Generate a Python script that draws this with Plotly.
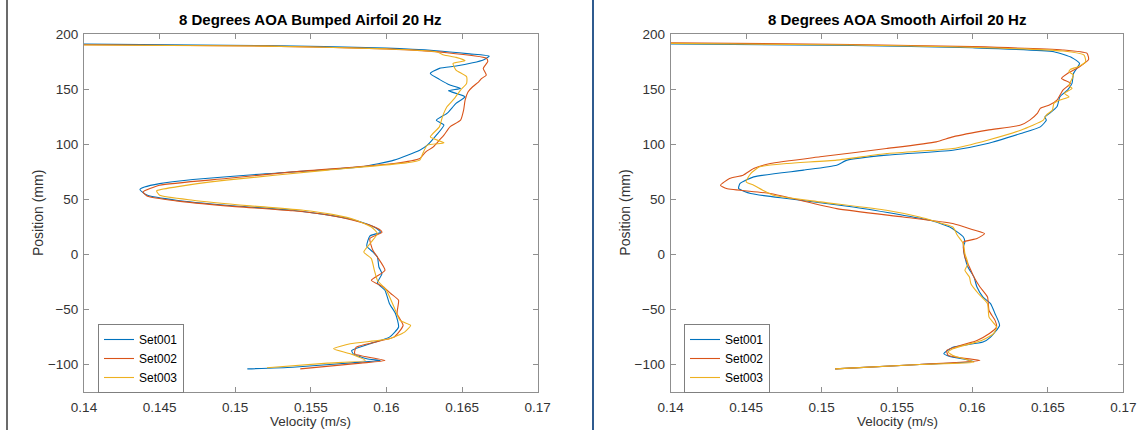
import plotly.graph_objects as go

W, H = 1148, 439

# ---------------- data (position mm, velocity m/s) ----------------
bumped_set001 = [
    (190.8, 0.1400), (189.5, 0.1520), (187.2, 0.1600), (184.8, 0.1633), (182.0, 0.1655),
    (180.0, 0.1668), (176.5, 0.1664), (173.9, 0.1657), (170.9, 0.1646), (168.8, 0.1635),
    (164.2, 0.1629), (158.8, 0.1635), (153.6, 0.1642), (150.6, 0.1649), (148.5, 0.1641),
    (143.0, 0.1652), (137.0, 0.1646), (127.9, 0.1640), (121.8, 0.1633), (117.3, 0.1638),
    (108.2, 0.1633), (99.1, 0.1627), (94.5, 0.1622), (85.5, 0.1605), (79.4, 0.1583),
    (72.7, 0.1516), (67.9, 0.1472), (64.2, 0.1450), (61.0, 0.1440), (58.8, 0.1437),
    (56.0, 0.1439), (53.6, 0.1442), (49.1, 0.1461), (44.5, 0.1494), (40.0, 0.1538),
    (36.0, 0.1560), (32.0, 0.1576), (27.0, 0.1588), (23.0, 0.1594), (20.0, 0.1596),
    (16.6, 0.1589), (7.5, 0.1587),
    (2.1, 0.1591), (-2.5, 0.1594), (-11.5, 0.1595), (-17.6, 0.1597), (-26.0, 0.1594),
    (-32.7, 0.1599), (-44.8, 0.1602), (-53.9, 0.1606), (-66.0, 0.1608), (-75.2, 0.1602),
    (-81.2, 0.1589), (-87.3, 0.1577), (-90.3, 0.1578), (-94.8, 0.1587), (-96.4, 0.1596),
    (-97.9, 0.1583), (-102.5, 0.1538), (-104.0, 0.1508),
]
bumped_set002 = [
    (190.2, 0.1400), (189.0, 0.1520), (186.5, 0.1600), (183.0, 0.1640), (178.0, 0.1666),
    (175.0, 0.1667), (168.8, 0.1664), (162.7, 0.1666), (159.7, 0.1663), (156.6, 0.1661),
    (152.1, 0.1657), (147.6, 0.1654), (140.0, 0.1652), (130.9, 0.1651), (121.8, 0.1649),
    (115.7, 0.1642), (108.2, 0.1638), (103.6, 0.1635), (97.5, 0.1631), (93.0, 0.1626),
    (87.0, 0.1622), (82.4, 0.1605), (74.8, 0.1538), (68.8, 0.1494), (62.7, 0.1450),
    (56.6, 0.1439), (52.7, 0.1442), (48.5, 0.1461), (44.0, 0.1494), (39.5, 0.1538),
    (35.5, 0.1562), (31.0, 0.1578), (26.0, 0.1590), (22.0, 0.1596), (20.0, 0.1597),
    (14.3, 0.1589), (3.6, 0.1591),
    (-2.5, 0.1594), (-14.5, 0.1599), (-23.6, 0.1590), (-29.7, 0.1598), (-35.8, 0.1603),
    (-41.8, 0.1608), (-53.9, 0.1607), (-64.5, 0.1611), (-75.2, 0.1605), (-84.3, 0.1580),
    (-90.3, 0.1579), (-96.4, 0.1599), (-98.8, 0.1583), (-104.0, 0.1543),
]
bumped_set003 = [
    (190.0, 0.1400), (189.0, 0.1520), (186.5, 0.1600), (183.9, 0.1633), (180.9, 0.1638),
    (178.8, 0.1646), (175.8, 0.1652), (173.3, 0.1644), (167.3, 0.1646), (161.2, 0.1653),
    (155.2, 0.1653), (149.1, 0.1649), (141.5, 0.1645), (133.9, 0.1640), (124.8, 0.1637),
    (115.7, 0.1635), (106.6, 0.1629), (101.2, 0.1638), (99.1, 0.1627), (91.5, 0.1624),
    (85.5, 0.1622), (83.0, 0.1613), (76.4, 0.1561), (67.3, 0.1494), (61.2, 0.1461),
    (57.6, 0.1448), (53.6, 0.1450), (49.1, 0.1472), (44.0, 0.1510), (40.0, 0.1545),
    (36.0, 0.1565), (31.0, 0.1580), (24.8, 0.1590), (18.8, 0.1594), (11.2, 0.1590),
    (2.1, 0.1585),
    (-3.9, 0.1590), (-14.5, 0.1592), (-23.6, 0.1594), (-32.7, 0.1600), (-47.9, 0.1605),
    (-60.0, 0.1609), (-64.5, 0.1616), (-70.6, 0.1612), (-76.7, 0.1602), (-81.2, 0.1576),
    (-85.8, 0.1565), (-90.3, 0.1576), (-96.4, 0.1586), (-98.8, 0.1561), (-103.0, 0.1521),
]

smooth_set001 = [
    (191.0, 0.1400), (189.5, 0.1520), (187.5, 0.1600), (183.9, 0.1654), (178.5, 0.1666),
    (173.3, 0.1671), (164.2, 0.1667), (155.2, 0.1666), (149.1, 0.1663), (143.0, 0.1658),
    (133.9, 0.1656), (127.9, 0.1651), (124.8, 0.1648), (121.8, 0.1649), (115.7, 0.1645),
    (109.7, 0.1632), (100.6, 0.1610), (94.5, 0.1587), (90.0, 0.1543), (85.5, 0.1517),
    (80.9, 0.1510), (76.4, 0.1488), (70.3, 0.1455), (64.3, 0.1446), (59.7, 0.1445),
    (55.2, 0.1453), (50.6, 0.1477), (43.0, 0.1521), (35.5, 0.1554), (30.9, 0.1572),
    (24.8, 0.1585), (15.7, 0.1594), (11.2, 0.1595), (6.7, 0.1594), (-2.5, 0.1595),
    (-11.5, 0.1597), (-20.6, 0.1601), (-29.7, 0.1603), (-38.8, 0.1607), (-44.8, 0.1612),
    (-53.9, 0.1615), (-64.5, 0.1618), (-75.2, 0.1612), (-79.7, 0.1607), (-84.3, 0.1587),
    (-90.3, 0.1581), (-92.7, 0.1585), (-97.3, 0.1601), (-100.0, 0.1565), (-104.0, 0.1509),
]
smooth_set002 = [
    (192.0, 0.1400), (190.5, 0.1520), (188.5, 0.1600), (185.5, 0.1660), (182.4, 0.1676),
    (177.0, 0.1677), (170.3, 0.1671), (164.2, 0.1663), (159.7, 0.1659), (155.2, 0.1665),
    (149.1, 0.1660), (140.0, 0.1656), (135.5, 0.1651), (132.5, 0.1645), (127.9, 0.1643),
    (121.8, 0.1638), (117.3, 0.1632), (112.7, 0.1610), (106.6, 0.1587), (102.1, 0.1576),
    (96.0, 0.1543), (88.5, 0.1499), (82.4, 0.1466), (77.9, 0.1455), (71.8, 0.1448),
    (68.8, 0.1439), (62.7, 0.1433), (59.7, 0.1437), (55.2, 0.1466), (41.5, 0.1510),
    (33.9, 0.1554), (28.0, 0.1587), (22.0, 0.1601), (18.8, 0.1608), (14.3, 0.1603),
    (11.2, 0.1594), (6.7, 0.1594), (-2.5, 0.1595), (-11.5, 0.1598), (-20.6, 0.1601),
    (-29.7, 0.1605), (-38.8, 0.1610), (-51.0, 0.1611), (-60.0, 0.1615), (-66.0, 0.1616),
    (-72.1, 0.1611), (-78.2, 0.1603), (-87.3, 0.1583), (-91.8, 0.1584), (-96.4, 0.1605),
    (-100.0, 0.1565), (-104.0, 0.1509),
]
smooth_set003 = [
    (191.5, 0.1400), (190.0, 0.1520), (188.0, 0.1600), (184.5, 0.1660), (180.9, 0.1674),
    (174.8, 0.1675), (170.3, 0.1670), (167.9, 0.1665), (165.8, 0.1664), (162.7, 0.1667),
    (156.6, 0.1665), (153.0, 0.1664), (150.6, 0.1666), (146.1, 0.1661), (143.0, 0.1664),
    (140.0, 0.1658), (137.0, 0.1654), (130.9, 0.1653), (126.4, 0.1649), (121.8, 0.1647),
    (112.7, 0.1632), (103.6, 0.1610), (96.0, 0.1587), (91.5, 0.1543), (85.5, 0.1510),
    (82.4, 0.1477), (79.4, 0.1459), (73.3, 0.1453), (65.8, 0.1450), (62.7, 0.1455),
    (58.2, 0.1461), (53.6, 0.1468), (47.6, 0.1499), (40.0, 0.1543), (33.9, 0.1565),
    (30.0, 0.1575), (24.8, 0.1587), (17.3, 0.1590), (9.7, 0.1594), (0.6, 0.1595),
    (-8.5, 0.1597), (-14.5, 0.1595), (-20.6, 0.1598), (-26.7, 0.1599), (-35.8, 0.1604),
    (-44.8, 0.1610), (-57.0, 0.1611), (-66.0, 0.1616), (-72.1, 0.1614), (-78.2, 0.1606),
    (-85.8, 0.1587), (-88.8, 0.1584), (-91.8, 0.1587), (-97.9, 0.1601), (-100.0, 0.1565),
    (-104.0, 0.1509),
]

series_names = ["Set001", "Set002", "Set003"]
panel_titles = ["8 Degrees AOA Bumped Airfoil 20 Hz", "8 Degrees AOA Smooth Airfoil 20 Hz"]
x_tick_vals = [0.14, 0.145, 0.15, 0.155, 0.16, 0.165, 0.17]
x_tick_text = ["0.14", "0.145", "0.15", "0.155", "0.16", "0.165", "0.17"]
y_tick_vals = [-100, -50, 0, 50, 100, 150, 200]
x_label = "Velocity (m/s)"
y_label = "Position (mm)"

colors = ["#0072BD", "#D95319", "#EDB120"]
FONT = "Liberation Sans, Arial, Helvetica, sans-serif"
TXT = "#333333"
AX = "#8f8f8f"

fig = go.Figure()

panels = [
    ([bumped_set001, bumped_set002, bumped_set003], "x", "y", "legend"),
    ([smooth_set001, smooth_set002, smooth_set003], "x2", "y2", "legend2"),
]
for data_list, xa, ya, lg in panels:
    for name, d, c in zip(series_names, data_list, colors):
        fig.add_trace(go.Scatter(
            x=[v for p, v in d], y=[p for p, v in d], mode="lines", name=name,
            line=dict(color=c, width=1.1, shape="spline", smoothing=0.5),
            xaxis=xa, yaxis=ya, legend=lg,
        ))

# pixel geometry of the two axes boxes
boxes = [(84, 537.7), (670.7, 1123.3)]
top_px, bot_px = 34, 392

def px_x(px):
    return px / W

def px_y(py):
    return 1 - py / H

axis_common = dict(
    showgrid=False, zeroline=False, showline=True, linecolor=AX, linewidth=1,
    mirror="allticks", ticks="inside", ticklen=5, tickcolor=AX, tickwidth=1,
    tickfont=dict(family=FONT, size=13.5, color=TXT), automargin=False,
)

layout_axes = {}
for i, (l, r) in enumerate(boxes):
    sx = "" if i == 0 else str(i + 1)
    layout_axes["xaxis" + sx] = dict(
        axis_common, domain=[px_x(l), px_x(r)], range=[0.14, 0.17],
        tickvals=x_tick_vals, ticktext=x_tick_text, anchor="y" + sx,
        ticklabelstandoff=3,
    )
    layout_axes["yaxis" + sx] = dict(
        axis_common, domain=[px_y(bot_px), px_y(top_px)], range=[-125, 200],
        tickvals=y_tick_vals, anchor="x" + sx, ticklabelstandoff=2,
    )

annotations = []
for i, (l, r) in enumerate(boxes):
    cx = (l + r) / 2
    annotations.append(dict(
        text="<b>" + panel_titles[i] + "</b>", x=px_x(cx), y=px_y(20),
        xref="paper", yref="paper", xanchor="center", yanchor="middle",
        showarrow=False, font=dict(family=FONT, size=15, color="#000000"),
    ))
    annotations.append(dict(
        text=x_label, x=px_x(cx), y=px_y(421), xref="paper", yref="paper",
        xanchor="center", yanchor="middle", showarrow=False,
        font=dict(family=FONT, size=13.5, color=TXT),
    ))
    annotations.append(dict(
        text=y_label, x=px_x(l - 46), y=px_y((top_px + bot_px) / 2), xref="paper", yref="paper",
        xanchor="center", yanchor="middle", showarrow=False, textangle=-90,
        font=dict(family=FONT, size=14, color=TXT),
    ))

legend_common = dict(
    xanchor="left", yanchor="top", bgcolor="#ffffff", bordercolor="#7f7f7f", borderwidth=1,
    font=dict(family=FONT, size=12, color="#000000"), tracegroupgap=0,
    itemwidth=30,
)

shapes = [
    dict(type="line", xref="paper", yref="paper", x0=px_x(7), x1=px_x(7), y0=px_y(430), y1=1,
         line=dict(color="#3a3a3a", width=1.5)),
    dict(type="line", xref="paper", yref="paper", x0=px_x(593), x1=px_x(593), y0=px_y(430), y1=1,
         line=dict(color="#2f5b8f", width=2)),
]

fig.update_layout(
    width=W, height=H, margin=dict(l=0, r=0, t=0, b=0),
    paper_bgcolor="#ffffff", plot_bgcolor="#ffffff",
    showlegend=True,
    legend=dict(legend_common, x=px_x(98), y=px_y(324)),
    legend2=dict(legend_common, x=px_x(684), y=px_y(324)),
    annotations=annotations, shapes=shapes,
    **layout_axes,
)

fig.write_html("out.html")
